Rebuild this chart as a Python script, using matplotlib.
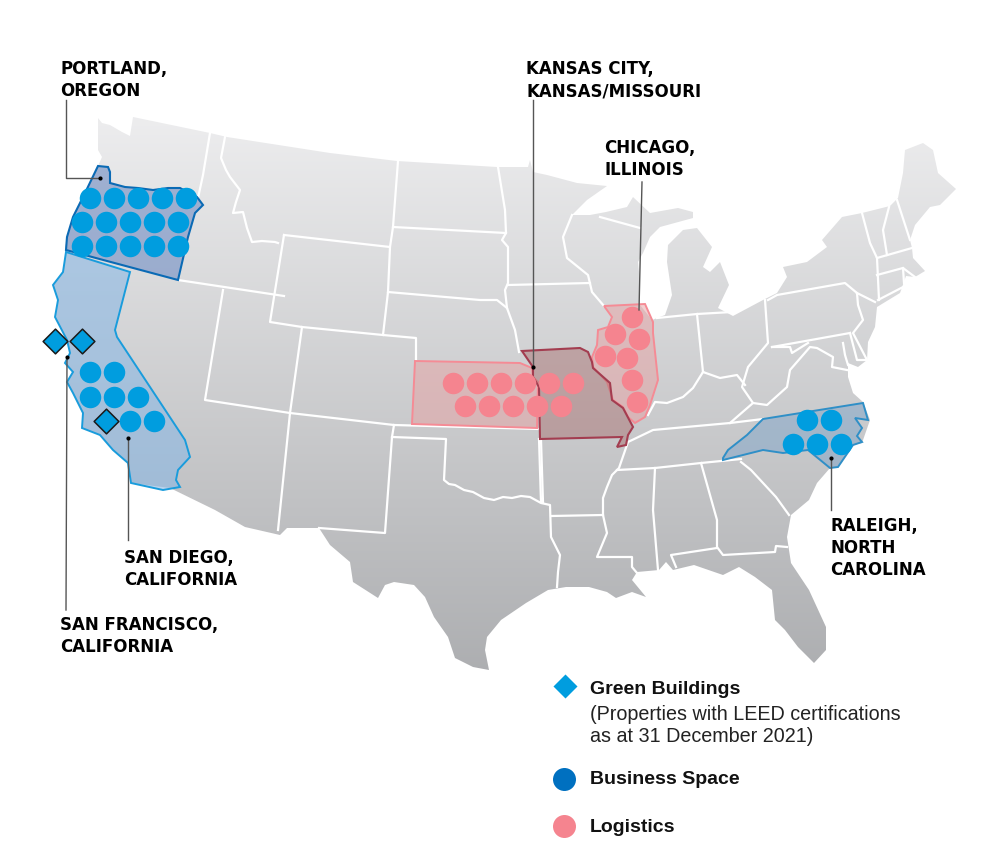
from matplotlib import pyplot as plt
from matplotlib.patches import Polygon
import numpy as np

land = [(98,118),(102,123),(110,125),(122,132),(130,136),(133,117),(210,133),(227,137),(330,153),(397,161),
    (497,167),(528,167),(530,160),(533,172),(547,175),(577,183),(607,186),(587,200),(572,215),(590,215),
    (606,212),(627,207),(633,197),(650,213),(678,208),(693,212),(693,218),(660,227),(650,237),(643,253),
    (638,262),(640,282),(640,305),(652,320),(665,315),(672,295),(667,262),(668,245),(683,230),(697,228),
    (712,247),(703,267),(710,272),(720,262),(729,285),(718,308),(733,316),(763,300),(777,293),(787,277),
    (783,267),(807,262),(827,247),(822,240),(842,217),(862,213),(890,206),(898,198),(903,173),(905,150),
    (923,143),(933,150),(938,173),(956,189),(940,205),(930,207),(915,225),(910,240),(912,248),(913,258),
    (925,271),(915,277),(906,276),(900,293),(877,307),(875,327),(868,342),(867,360),(858,367),(848,363),
    (848,377),(853,393),(863,402),(870,420),(862,443),(853,445),(838,467),(830,468),(817,483),(809,500),
    (791,515),(787,537),(791,563),(809,590),(826,627),(826,650),(814,663),(798,647),(785,630),(775,620),
    (772,590),(755,577),(739,567),(723,575),(694,565),(673,570),(666,562),(659,570),(637,572),(632,580),
    (646,597),(632,592),(616,598),(607,592),(589,587),(566,587),(548,590),(526,603),(501,620),(487,637),
    (485,650),(489,670),(473,667),(455,658),(448,637),(434,617),(425,597),(414,585),(394,582),(385,585),
    (378,598),(353,582),(350,562),(330,545),(319,528),(287,528),(280,535),(245,527),(215,510),(170,488),
    (131,483),(128,463),(113,450),(100,435),(82,428),(83,413),(73,393),(67,382),(73,372),(65,363),
    (70,353),(67,340),(55,317),(58,300),(53,285),(63,272),(66,252),(65,247),(72,222),(85,193),
    (98,166),(102,157),(98,150)]

borders = [
    [(210,133),(203,175),(198,198)],
    [(225,137),(221,158),(226,170),(230,177),(240,190),(236,202),(233,213),(243,212),(247,228),(252,242),(262,241),(275,242),(278,243)],
    [(178,280),(284,296)],
    [(284,235),(270,322),(302,327),(383,335),(416,338),(416,360)],
    [(284,235),(390,247),(388,292),(383,335)],
    [(223,290),(205,400),(290,413),(394,425),(539,429)],
    [(302,327),(290,413),(278,530)],
    [(398,161),(393,227),(390,247)],
    [(393,227),(506,233)],
    [(388,292),(480,300),(497,300),(507,308),(515,330),(519,352)],
    [(498,167),(505,210),(506,233),(502,240),(508,247),(508,283),(505,290),(507,308)],
    [(508,285),(590,283)],
    [(572,215),(563,237),(567,258),(588,275),(592,292),(604,306)],
    [(600,217),(640,228)],
    [(394,425),(392,437),(385,533),(319,528)],
    [(392,437),(446,439),(444,480),(449,484),(455,485),(464,490),(473,492),(484,498),(494,500),(503,497),(512,498),(521,496),(530,497),(541,503),(550,505),(551,537),(560,555),(558,572),(557,587)],
    [(541,440),(543,502)],
    [(551,516),(603,515)],
    [(628,442),(619,468),(612,475),(607,487),(603,498),(603,515),(607,533),(597,557),(632,557),(632,567),(637,573)],
    [(628,442),(653,430),(730,423),(763,419)],
    [(617,470),(655,468),(701,463),(741,459)],
    [(655,468),(653,510),(658,570)],
    [(701,463),(717,520),(717,547),(723,555),(775,552),(776,546),(787,547)],
    [(717,548),(671,555),(676,567)],
    [(741,462),(751,470),(776,497),(789,515)],
    [(730,423),(753,403),(742,387),(748,367),(768,343),(765,300)],
    [(753,403),(767,405),(787,387),(790,370),(810,347),(817,348),(833,357),(832,367),(847,370)],
    [(772,347),(850,333)],
    [(768,300),(777,295),(845,283),(857,293),(858,305),(863,320),(853,333),(867,360),(857,360),(850,333)],
    [(772,347),(790,347),(792,353),(808,343)],
    [(857,293),(875,302)],
    [(862,213),(870,243),(877,258),(879,300)],
    [(889,207),(883,230),(887,255)],
    [(897,200),(910,240)],
    [(877,258),(912,248)],
    [(877,275),(903,268),(915,277)],
    [(903,268),(904,283)],
    [(657,318),(697,314),(732,312)],
    [(697,314),(703,372)],
    [(703,372),(693,388),(683,397),(667,403),(655,402),(648,415)],
    [(703,372),(720,378),(737,375),(745,385)],
    [(539,439),(541,502)],
    # water cuts
    [(843,343),(845,355),(848,365)],
    [(878,300),(905,286)],
]

oregon = [(98,166),(108,167),(110,172),(110,183),(125,187),(138,188),(153,190),(168,188),(180,188),(197,197),(203,205),(195,213),
    (188,237),(178,280),(66,250),(67,237),(73,217),(85,193)]
california = [(66,252),(130,272),(115,330),(117,337),(185,440),(190,457),(178,470),(176,480),(180,487),(163,490),
    (131,483),(128,463),(113,450),(100,435),(82,428),(83,413),(73,393),(67,382),(73,372),(65,363),
    (70,353),(67,340),(55,317),(58,300),(53,285),(63,272)]
kansas = [(415,361),(520,363),(532,368),(533,377),(538,382),(537,428),(412,424)]
missouri = [(522,351),(580,348),(588,352),(592,362),(593,368),(610,383),(612,400),(623,408),(633,427),(628,435),
    (626,445),(617,447),(622,437),(540,439),(539,387),(533,377),(533,367)]
illinois = [(604,306),(645,304),(653,322),(653,333),(658,380),(650,405),(645,417),(635,423),(628,417),(623,407),
    (613,400),(607,382),(593,367),(592,357),(597,345),(598,330),(608,327),(612,317)]
n_carolina = [(723,458),(728,450),(747,435),(763,419),(863,403),(868,420),(855,418),(862,428),(857,436),(862,442),
    (853,445),(838,467),(830,468),(808,450),(783,453),(763,450),(723,460)]

business_x = [90,114,138,162,186, 82,106,130,154,178, 82,106,130,154,178,
    90,114, 90,114,138, 130,154, 807,831, 793,817,841]
business_y = [198,198,198,198,198, 222,222,222,222,222, 246,246,246,246,246,
    372,372, 397,397,397, 421,421, 420,420, 444,444,444]
logistics_x = [453,477,501,525,549,573, 465,489,513,537,561, 632,615,639,605,627,632,637]
logistics_y = [383,383,383,383,383,383, 406,406,406,406,406, 317,334,339,356,358,380,402]
green_x = [55,82,106]
green_y = [341,341,421]

leaders = [
    [(66,100),(66,178),(100,178)],
    [(533,100),(533,367)],
    [(642,182),(639,310)],
    [(67,357),(66,610)],
    [(128,438),(128,540)],
    [(831,458),(831,510)],
]
leader_dots = [(100,178),(533,367),(67,357),(128,438),(831,458)]

city_labels = [
    (60,69,"PORTLAND,"),(60,91,"OREGON"),
    (526,69,"KANSAS CITY,"),(526,91,"KANSAS/MISSOURI"),
    (604,148,"CHICAGO,"),(604,170,"ILLINOIS"),
    (124,558,"SAN DIEGO,"),(124,580,"CALIFORNIA"),
    (60,625,"SAN FRANCISCO,"),(60,647,"CALIFORNIA"),
    (830,526,"RALEIGH,"),(830,548,"NORTH"),(830,570,"CAROLINA"),
]

BLUE = '#009ddf'
PINK = '#f5848f'

fig = plt.figure(figsize=(10, 8.5), dpi=100)
ax = fig.add_axes([0, 0, 1, 1])
ax.axis('off')

# grey gradient clipped to the country
grad = np.linspace(0, 1, 256).reshape(-1, 1)
top = np.array([0.93, 0.93, 0.935])
bottom = np.array([0.68, 0.685, 0.695])
img = top + (bottom - top) * grad[..., None]
im = ax.imshow(img, extent=(0, 1000, 670, 115), aspect='auto', zorder=1)
land_patch = Polygon(land, closed=True, facecolor='none', edgecolor='none', transform=ax.transData)
ax.add_patch(land_patch)
im.set_clip_path(land_patch)
ax.set_xlim(0, 1000)
ax.set_ylim(850, 0)

for b in borders:
    xs, ys = zip(*b)
    ax.plot(xs, ys, color='white', lw=1.6, solid_joinstyle='round', zorder=2)

# highlighted states
ax.add_patch(Polygon(california, closed=True, facecolor=(0.545, 0.72, 0.895, 0.6), edgecolor='#199cdc', lw=1.4, zorder=3))
ax.add_patch(Polygon(oregon, closed=True, facecolor=(0.5, 0.6, 0.785, 0.7), edgecolor='#0a6ab5', lw=1.5, zorder=3))
ax.add_patch(Polygon(n_carolina, closed=True, facecolor=(0.54, 0.667, 0.79, 0.6), edgecolor='#2f8fc7', lw=1.4, zorder=3))
ax.add_patch(Polygon(kansas, closed=True, facecolor=(0.9, 0.63, 0.635, 0.5), edgecolor='#f58b95', lw=1.4, zorder=3))
ax.add_patch(Polygon(illinois, closed=True, facecolor=(0.9, 0.63, 0.635, 0.5), edgecolor='#f58b95', lw=1.4, zorder=3))
ax.add_patch(Polygon(missouri, closed=True, facecolor=(0.667, 0.455, 0.455, 0.5), edgecolor='#a33d50', lw=1.5, zorder=3))

dot_size = (21.5 * 0.72) ** 2
ax.scatter(business_x, business_y, s=dot_size, color=BLUE, linewidths=0, zorder=4)
ax.scatter(logistics_x, logistics_y, s=dot_size, color=PINK, linewidths=0, zorder=4)
ax.scatter(green_x, green_y, s=(17.5 * 0.72) ** 2, marker='D', color=BLUE, edgecolors='#1a1a1a', linewidths=1.1, zorder=5)

for l in leaders:
    xs, ys = zip(*l)
    ax.plot(xs, ys, color='#555555', lw=1.0, zorder=6)
xs, ys = zip(*leader_dots)
ax.scatter(xs, ys, s=9, color='black', linewidths=0, zorder=7)

for x, y, t in city_labels:
    ax.text(x, y, t, family='DejaVu Sans', fontweight='bold', fontsize=12, color='black', va='center', ha='left', zorder=8)

# legend, drawn by hand like the original
ax.scatter([565], [686], s=(17 * 0.72) ** 2, marker='D', color=BLUE, linewidths=0, zorder=5)
ax.scatter([564], [779], s=(23 * 0.72) ** 2, color='#0070c0', linewidths=0, zorder=5)
ax.scatter([564], [826], s=(23 * 0.72) ** 2, color=PINK, linewidths=0, zorder=5)
ax.text(590, 690, "Green Buildings", family='Liberation Sans', fontweight='bold', fontsize=14, color='#111111', va='center')
ax.text(590, 714, "(Properties with LEED certifications", family='Liberation Sans', fontsize=14.2, color='#222222', va='center')
ax.text(590, 737, "as at 31 December 2021)", family='Liberation Sans', fontsize=14.2, color='#222222', va='center')
ax.text(590, 779, "Business Space", family='Liberation Sans', fontweight='bold', fontsize=14, color='#111111', va='center')
ax.text(590, 827, "Logistics", family='Liberation Sans', fontweight='bold', fontsize=14, color='#111111', va='center')

fig.savefig('out.png', dpi=100)
